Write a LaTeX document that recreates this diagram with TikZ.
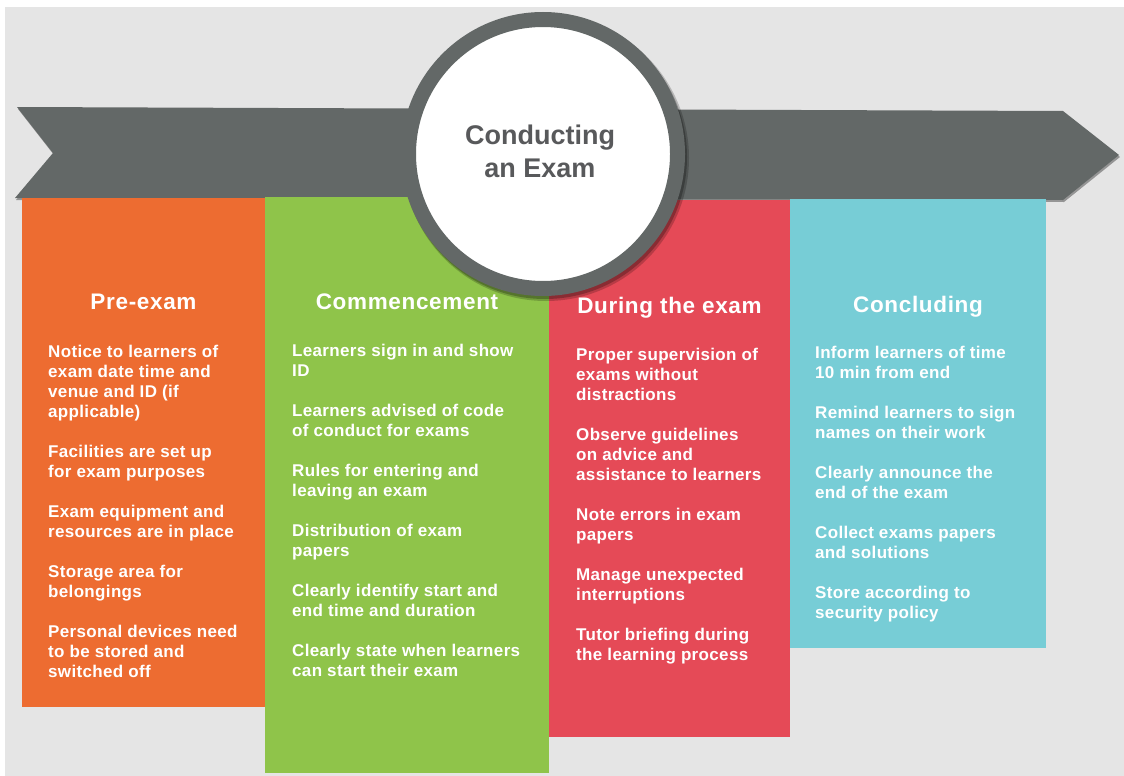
\documentclass[tikz,border=0pt]{standalone}
\usepackage{fontspec}
\setmainfont{Liberation Sans}
\newfontfamily\bodyfont{Liberation Sans}[LetterSpace=2]
\newfontfamily\headfont{Liberation Sans}[LetterSpace=3]
\usepackage{tikz}

\definecolor{bggray}{HTML}{E5E5E5}
\definecolor{ribbongray}{HTML}{636867}
\definecolor{hubtext}{HTML}{58595B}
\definecolor{preorange}{HTML}{ED6C31}
\definecolor{comgreen}{HTML}{8FC44A}
\definecolor{durred}{HTML}{E54A57}
\definecolor{concyan}{HTML}{77CDD6}

\begin{document}
\begin{tikzpicture}[x=1pt,y=-1pt]
\tikzstyle{col}=[anchor=north west,inner sep=0,outer sep=0];
\tikzstyle{head}=[anchor=base,text=white,font=\headfont\bfseries\fontsize{22.5}{26}\selectfont];
\tikzstyle{body}=[anchor=north west,inner sep=0,align=left,text=white,font=\bodyfont\bfseries\fontsize{17}{20}\selectfont];

\useasboundingbox (0,0) rectangle (1124,776);
\fill[bggray] (5,7) rectangle (1124,776);

% ribbon with its shadow
\fill[black,opacity=0.35,xshift=1pt,yshift=-2pt] (17,107) -- (1063,111) -- (1119,155) -- (1063,200) -- (15,198) -- (53,153) -- cycle;
\fill[ribbongray] (17,107) -- (1063,111) -- (1119,155) -- (1063,200) -- (15,198) -- (53,153) -- cycle;

% columns
\node [col,fill=preorange,minimum width=243,minimum height=509] (pre) at (22,198) {};
\node [col,fill=comgreen,minimum width=284,minimum height=576] (com) at (265,197) {};
\node [col,fill=durred,minimum width=241,minimum height=537] (dur) at (549,200) {};
\node [col,fill=concyan,minimum width=256,minimum height=449] (con) at (790,199) {};

\node [head] (prehead) at (143.5,309) {Pre-exam};
\node [head] (comhead) at (407,309) {Commencement};
\node [head] (durhead) at (669.5,313) {During the exam};
\node [head] (conhead) at (918,312) {Concluding};

\node [body] (prebody) at (48,343) {\strut Notice to learners of\\exam date time and\\venue and ID (if\\applicable)\\[20pt]
Facilities are set up\\for exam purposes\\[20pt]
Exam equipment and\\resources are in place\\[20pt]
Storage area for\\belongings\\[20pt]
Personal devices need\\to be stored and\\switched off};

\node [body] (combody) at (292,342) {\strut Learners sign in and show\\ID\\[20pt]
Learners advised of code\\of conduct for exams\\[20pt]
Rules for entering and\\leaving an exam\\[20pt]
Distribution of exam\\papers\\[20pt]
Clearly identify start and\\end time and duration\\[20pt]
Clearly state when learners\\can start their exam};

\node [body] (durbody) at (576,346) {\strut Proper supervision of\\exams without\\distractions\\[20pt]
Observe guidelines\\on advice and\\assistance to learners\\[20pt]
Note errors in exam\\papers\\[20pt]
Manage unexpected\\interruptions\\[20pt]
Tutor briefing during\\the learning process};

\node [body] (conbody) at (815,344) {\strut Inform learners of time\\10 min from end\\[20pt]
Remind learners to sign\\names on their work\\[20pt]
Clearly announce the\\end of the exam\\[20pt]
Collect exams papers\\and solutions\\[20pt]
Store according to\\security policy};

% centre disc
\fill[black,opacity=0.2] (546,158) circle (143);
\fill[black,opacity=0.25] (545,157) circle (142);
\node [circle,fill=white,draw=ribbongray,line width=15pt,minimum size=269,inner sep=0] (hub) at (543,154) {};
\node [anchor=north,align=center,text=hubtext,inner sep=0,font=\bfseries\fontsize{27}{33}\selectfont] (hubtitle) at (540,124.5) {Conducting\\an Exam};
\end{tikzpicture}
\end{document}
